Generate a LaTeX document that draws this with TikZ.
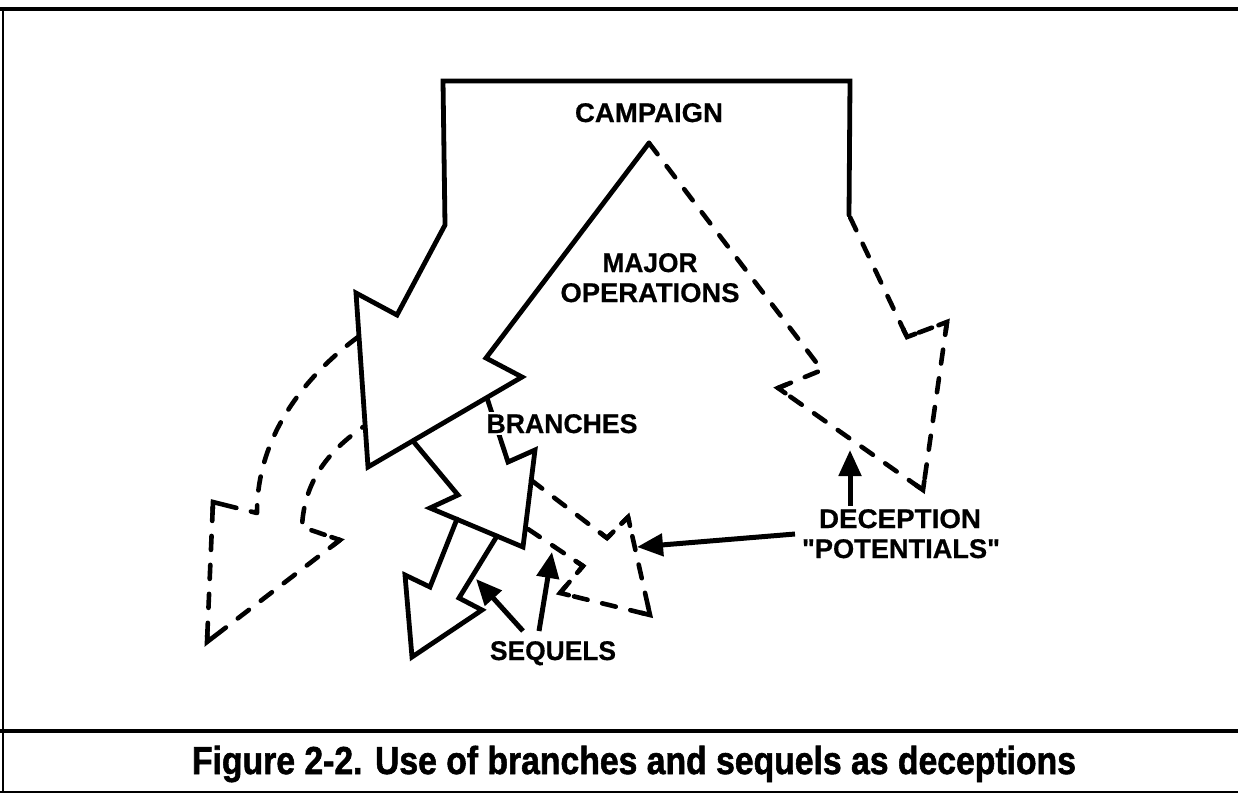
\documentclass[tikz,border=0pt]{standalone}
\usepackage{fontspec}
\setmainfont{Liberation Sans}
\newfontfamily\labelfont[BoldFeatures={FakeBold=0.6}]{Liberation Sans}
\newfontfamily\captionfont[BoldFeatures={FakeBold=1.6}]{Liberation Sans}
\usetikzlibrary{arrows.meta,calc}
\newcommand\cornermark[3]{\draw[cornerline] ($(#2)!9pt!(#1)$) -- (#2) -- ($(#2)!9pt!(#3)$);}
\begin{document}
\begin{tikzpicture}[x=1pt,y=-1pt,
  solidline/.style={line width=4.8pt, line join=miter, line cap=round},
  dashline/.style={line width=4.6pt, dash pattern=on 14pt off 15pt, line cap=round, line join=round},
  cornerline/.style={line width=4.6pt, line cap=round, line join=miter},
  pointer/.style={line width=5pt, -{Triangle[length=26pt,width=22pt]}},
  lbl/.style={inner sep=0pt, anchor=base, font=\labelfont\bfseries\fontsize{27}{27}\selectfont},
  frameline/.style={line width=3.8pt}]

\useasboundingbox (0,0) rectangle (1238,793);

% outer frame and caption panel
\draw[frameline] (0,9) -- (1238,9);
\draw[line width=2.8pt] (3,9) -- (3,793);
\draw[frameline] (0,731) -- (1238,731);
\draw[line width=2pt] (0,792) -- (1238,792);

% campaign outline
\coordinate (c1) at (850,81);
\coordinate (c2) at (443,81);
\coordinate (c3) at (445,225);
\coordinate (c4) at (397,315);
\coordinate (c5) at (356,293);
\coordinate (c6) at (368,467);
\coordinate (c7) at (522,377);
\coordinate (c8) at (486,358);
\coordinate (apex) at (649,143);
\coordinate (r1) at (822,370);
\coordinate (r2) at (778,388);
\coordinate (r3) at (923,490);
\coordinate (r4) at (947,322);
\coordinate (r5) at (907,337);
\coordinate (c9) at (849,215);

\draw[solidline] (c9) -- (c1) -- (c2) -- (c3) -- (c4) -- (c5) -- (c6) -- (c7) -- (c8) -- (apex);
\draw[dashline] (apex) -- (r1) -- (r2) -- (r3) -- (r4) -- (r5) -- (c9);
\cornermark{r1}{r2}{r3}
\cornermark{r2}{r3}{r4}
\cornermark{r3}{r4}{r5}
\cornermark{r4}{r5}{c9}

% branch arrow
\coordinate (b1) at (413,441);
\coordinate (b2) at (458,495);
\coordinate (b3) at (430,508);
\coordinate (b4) at (523,547);
\coordinate (b5) at (535,450);
\coordinate (b6) at (508,462);
\coordinate (b7) at (487,398);
\draw[solidline] (b1) -- (b2) -- (b3) -- (b4) -- (b5) -- (b6) -- (b7);

% sequel arrow
\coordinate (s1) at (457,519);
\coordinate (s2) at (430,587);
\coordinate (s3) at (405,575);
\coordinate (s4) at (412,657);
\coordinate (s5) at (482,610);
\coordinate (s6) at (459,598);
\coordinate (s7) at (497,536);
\draw[solidline] (s1) -- (s2) -- (s3) -- (s4) -- (s5) -- (s6) -- (s7);

% dashed sequel
\coordinate (d1) at (531,480);
\coordinate (d2) at (607,538);
\coordinate (d3) at (628,517);
\coordinate (d4) at (650,615);
\coordinate (d5) at (560,593);
\coordinate (d6) at (583,566);
\coordinate (d7) at (525,527);
\draw[dashline] (d1) -- (d2) -- (d3) -- (d4) -- (d5) -- (d6) -- (d7);
\cornermark{d1}{d2}{d3}
\cornermark{d2}{d3}{d4}
\cornermark{d3}{d4}{d5}
\cornermark{d4}{d5}{d6}
\cornermark{d5}{d6}{d7}

% dashed branch to the left
\coordinate (l1) at (358,337);
\coordinate (l2) at (257,513);
\coordinate (l3) at (213,502);
\coordinate (l4) at (207,642);
\coordinate (l5) at (340,540);
\coordinate (l6) at (302,527);
\coordinate (l7) at (363,427);
\draw[dashline] (l1) .. controls (300,380) and (257,440) .. (l2) -- (l3) -- (l4) -- (l5) -- (l6)
  .. controls (304,480) and (330,450) .. (l7);
\cornermark{l2}{l3}{l4}
\cornermark{l3}{l4}{l5}
\cornermark{l4}{l5}{l6}

% labels
\node[lbl] (campaign) at (649,122) {\resizebox{148pt}{\height}{CAMPAIGN}};
\node[lbl] (major) at (650,272) {\resizebox{95pt}{\height}{MAJOR}};
\node[lbl] (operations) at (650,302) {\resizebox{179pt}{\height}{OPERATIONS}};
\node[lbl, fill=white, inner sep=2pt] (branches) at (562,433) {\resizebox{151pt}{\height}{BRANCHES}};
\node[lbl] (sequels) at (553,660) {\resizebox{126pt}{\height}{SEQUELS}};
\node[lbl] (deception) at (900,528) {\resizebox{162pt}{\height}{DECEPTION}};
\node[lbl] (potentials) at (901,558) {\resizebox{198pt}{\height}{\textquotedbl POTENTIALS\textquotedbl}};

% pointers
\coordinate (upfrom) at (850,506);
\coordinate (upto) at (850,450);
\coordinate (leftfrom) at (795,534);
\coordinate (leftto) at (637,547);
\coordinate (seqAfrom) at (523,631);
\coordinate (seqAto) at (476,579);
\coordinate (seqBfrom) at (539,631);
\coordinate (seqBto) at (552,552);
\draw[pointer] (upfrom) -- (upto);
\draw[pointer] (leftfrom) -- (leftto);
\draw[pointer] (seqAfrom) -- (seqAto);
\draw[pointer] (seqBfrom) -- (seqBto);

% caption
\node[inner sep=0pt, anchor=base, font=\captionfont\bfseries\fontsize{39}{39}\selectfont] (caption) at (634,774)
  {\resizebox{884pt}{\height}{Figure 2-2. Use of branches and sequels as deceptions}};
\end{tikzpicture}
\end{document}
